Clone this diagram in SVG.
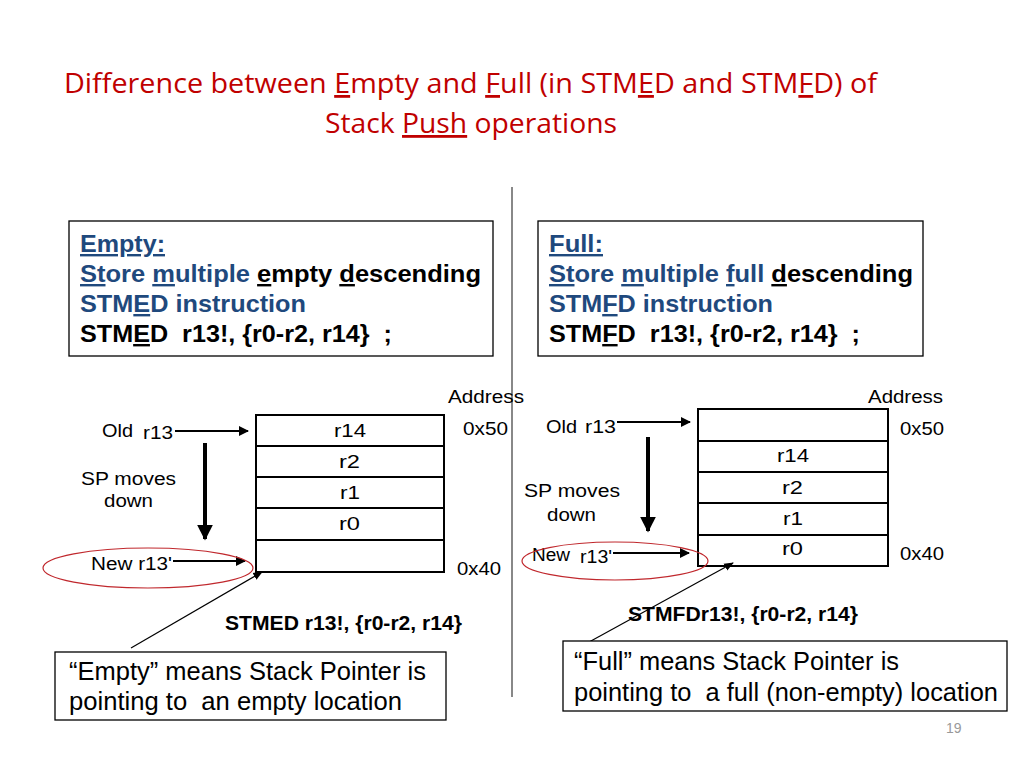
<svg xmlns="http://www.w3.org/2000/svg" width="1024" height="768" viewBox="0 0 1024 768">
<defs>
<style>
.title{font-family:"Open Sans","Liberation Sans",sans-serif;font-size:28px;fill:#C00000}
.hd{font-family:"Liberation Sans",Arial,sans-serif;font-size:24px;font-weight:bold;white-space:pre}
.blue{fill:#1F497D}
.blk{fill:#000}
.lbl{font-family:"Liberation Sans",Arial,sans-serif;font-size:18px;fill:#000}
.cmd{font-family:"Liberation Sans",Arial,sans-serif;font-size:20px;font-weight:bold;fill:#000}
.note{font-family:"Liberation Sans",Arial,sans-serif;font-size:25px;fill:#000;white-space:pre}
.u{text-decoration:underline}
.box{fill:#fff;stroke:#000;stroke-width:1.3}
.cell{fill:#fff;stroke:#000;stroke-width:2}
.arr{stroke:#000;stroke-width:2;fill:none}
.thick{stroke:#000;stroke-width:4;fill:none}
.thin{stroke:#000;stroke-width:1.2;fill:none}
.ell{fill:none;stroke:#C0282D;stroke-width:1.2}
</style>
<marker id="ah" viewBox="0 0 10 10" refX="9" refY="5" markerWidth="5" markerHeight="5" orient="auto" markerUnits="strokeWidth"><path d="M0,0 L10,5 L0,10 z" fill="#000"/></marker>
<marker id="ahb" viewBox="0 0 10 10" refX="9" refY="5" markerWidth="4" markerHeight="4" orient="auto" markerUnits="strokeWidth"><path d="M0,0 L10,5 L0,10 z" fill="#000"/></marker>
<marker id="ahs" viewBox="0 0 10 10" refX="9" refY="5" markerWidth="8" markerHeight="8" orient="auto" markerUnits="strokeWidth"><path d="M0,1 L10,5 L0,9 z" fill="#000"/></marker>
</defs>
<rect width="1024" height="768" fill="#fff"/>

<g id="title">
<text class="title" x="64" y="93" textLength="813" lengthAdjust="spacingAndGlyphs">Difference between <tspan class="u">E</tspan>mpty and <tspan class="u">F</tspan>ull (in STM<tspan class="u">E</tspan>D and STM<tspan class="u">F</tspan>D) of</text>
<text class="title" x="325" y="133" textLength="292" lengthAdjust="spacingAndGlyphs">Stack <tspan class="u">Push</tspan> operations</text>
</g>

<g id="divider"><line x1="512" y1="187" x2="512" y2="697" stroke="#888" stroke-width="2"/></g>

<g id="empty-box">
<rect class="box" x="69" y="221" width="424" height="135"/>
<text class="hd blue" x="80" y="252" textLength="85" lengthAdjust="spacingAndGlyphs"><tspan class="u">Empty:</tspan></text>
<text class="hd" x="80" y="282" textLength="401" lengthAdjust="spacingAndGlyphs"><tspan class="blue u">St</tspan><tspan class="blue">ore </tspan><tspan class="blue u">m</tspan><tspan class="blue">ultiple </tspan><tspan class="blk u">e</tspan><tspan class="blk">mpty </tspan><tspan class="blk u">d</tspan><tspan class="blk">escending</tspan></text>
<text class="hd blue" x="80" y="312" textLength="226" lengthAdjust="spacingAndGlyphs">STM<tspan class="u">E</tspan>D instruction</text>
<text class="hd blk" x="80" y="342" textLength="312" lengthAdjust="spacingAndGlyphs" xml:space="preserve">STM<tspan class="u">E</tspan>D  r13!, {r0-r2, r14}  ;</text>
</g>

<g id="full-box">
<rect class="box" x="538" y="221" width="385" height="135"/>
<text class="hd blue" x="549" y="252" textLength="54" lengthAdjust="spacingAndGlyphs"><tspan class="u">Full:</tspan></text>
<text class="hd" x="549" y="282" textLength="364" lengthAdjust="spacingAndGlyphs"><tspan class="blue u">St</tspan><tspan class="blue">ore </tspan><tspan class="blue u">m</tspan><tspan class="blue">ultiple </tspan><tspan class="blue u">f</tspan><tspan class="blue">ull </tspan><tspan class="blk u">d</tspan><tspan class="blk">escending</tspan></text>
<text class="hd blue" x="549" y="312" textLength="224" lengthAdjust="spacingAndGlyphs">STM<tspan class="u">F</tspan>D instruction</text>
<text class="hd blk" x="549" y="342" textLength="311" lengthAdjust="spacingAndGlyphs" xml:space="preserve">STM<tspan class="u">F</tspan>D  r13!, {r0-r2, r14}  ;</text>
</g>

<g id="stack-left">
<rect class="cell" x="256" y="415" width="188" height="31"/>
<rect class="cell" x="256" y="446" width="188" height="31"/>
<rect class="cell" x="256" y="477" width="188" height="31"/>
<rect class="cell" x="256" y="508" width="188" height="32"/>
<rect class="cell" x="256" y="540" width="188" height="32"/>
<text class="lbl" x="334" y="437" textLength="32" lengthAdjust="spacingAndGlyphs">r14</text>
<text class="lbl" x="339" y="468" textLength="21" lengthAdjust="spacingAndGlyphs">r2</text>
<text class="lbl" x="340" y="499" textLength="20" lengthAdjust="spacingAndGlyphs">r1</text>
<text class="lbl" x="339" y="530" textLength="21" lengthAdjust="spacingAndGlyphs">r0</text>
<text class="lbl" x="448" y="403" textLength="76" lengthAdjust="spacingAndGlyphs">Address</text>
<text class="lbl" x="463" y="435" textLength="45" lengthAdjust="spacingAndGlyphs">0x50</text>
<text class="lbl" x="457" y="575" textLength="44" lengthAdjust="spacingAndGlyphs">0x40</text>
<text class="lbl" x="102" y="437" textLength="31" lengthAdjust="spacingAndGlyphs">Old</text>
<text class="lbl" x="143" y="439" textLength="30" lengthAdjust="spacingAndGlyphs">r13</text>
<text class="lbl" x="81" y="485" textLength="95" lengthAdjust="spacingAndGlyphs">SP moves</text>
<text class="lbl" x="104" y="507" textLength="49" lengthAdjust="spacingAndGlyphs">down</text>
<text class="lbl" x="91" y="570" textLength="81" lengthAdjust="spacingAndGlyphs">New r13'</text>
<text class="cmd" x="225" y="630" textLength="237" lengthAdjust="spacingAndGlyphs">STMED r13!, {r0-r2, r14}</text>
</g>

<g id="stack-right">
<rect class="cell" x="698" y="409" width="190" height="32"/>
<rect class="cell" x="698" y="441" width="190" height="31"/>
<rect class="cell" x="698" y="472" width="190" height="31"/>
<rect class="cell" x="698" y="503" width="190" height="32"/>
<rect class="cell" x="698" y="535" width="190" height="31"/>
<text class="lbl" x="777" y="462" textLength="32" lengthAdjust="spacingAndGlyphs">r14</text>
<text class="lbl" x="782" y="494" textLength="21" lengthAdjust="spacingAndGlyphs">r2</text>
<text class="lbl" x="783" y="525" textLength="20" lengthAdjust="spacingAndGlyphs">r1</text>
<text class="lbl" x="782" y="555" textLength="21" lengthAdjust="spacingAndGlyphs">r0</text>
<text class="lbl" x="868" y="403" textLength="75" lengthAdjust="spacingAndGlyphs">Address</text>
<text class="lbl" x="900" y="435" textLength="44" lengthAdjust="spacingAndGlyphs">0x50</text>
<text class="lbl" x="900" y="560" textLength="44" lengthAdjust="spacingAndGlyphs">0x40</text>
<text class="lbl" x="546" y="433" textLength="31" lengthAdjust="spacingAndGlyphs">Old</text>
<text class="lbl" x="585" y="433" textLength="31" lengthAdjust="spacingAndGlyphs">r13</text>
<text class="lbl" x="524" y="497" textLength="96" lengthAdjust="spacingAndGlyphs">SP moves</text>
<text class="lbl" x="547" y="521" textLength="49" lengthAdjust="spacingAndGlyphs">down</text>
<text class="lbl" x="532" y="561" textLength="38" lengthAdjust="spacingAndGlyphs">New</text>
<text class="lbl" x="580" y="563" textLength="32" lengthAdjust="spacingAndGlyphs">r13'</text>
<text class="cmd" x="628" y="621" textLength="230" lengthAdjust="spacingAndGlyphs">STMFDr13!, {r0-r2, r14}</text>
</g>

<g id="connectors">
<line class="arr" x1="175" y1="431" x2="248" y2="431" marker-end="url(#ah)"/>
<line class="thick" x1="205" y1="443" x2="205" y2="539" marker-end="url(#ahb)"/>
<line class="arr" x1="173" y1="561" x2="245" y2="561" marker-end="url(#ah)"/>
<line class="thin" x1="131" y1="648" x2="262" y2="572" marker-end="url(#ahs)"/>
<line class="arr" x1="617" y1="422" x2="690" y2="422" marker-end="url(#ah)"/>
<line class="thick" x1="648" y1="437" x2="648" y2="531" marker-end="url(#ahb)"/>
<line class="arr" x1="613" y1="553" x2="689" y2="553" marker-end="url(#ah)"/>
<line class="thin" x1="580" y1="647" x2="733" y2="563" marker-end="url(#ahs)"/>
</g>

<g id="highlights">
<ellipse class="ell" cx="148" cy="568" rx="105" ry="20"/>
<ellipse class="ell" cx="615" cy="561" rx="93" ry="19"/>
</g>

<g id="note-empty">
<rect class="box" x="55" y="652" width="391" height="68"/>
<text class="note" x="69" y="680" textLength="357" lengthAdjust="spacingAndGlyphs">“Empty” means Stack Pointer is</text>
<text class="note" x="69" y="710" textLength="333" lengthAdjust="spacingAndGlyphs" xml:space="preserve">pointing to  an empty location</text>
</g>

<g id="note-full">
<rect class="box" x="563" y="641" width="444" height="70"/>
<text class="note" x="574" y="670" textLength="325" lengthAdjust="spacingAndGlyphs">“Full” means Stack Pointer is</text>
<text class="note" x="574" y="701" textLength="424" lengthAdjust="spacingAndGlyphs" xml:space="preserve">pointing to  a full (non-empty) location</text>
</g>

<text x="946" y="733" font-family="Liberation Sans, Arial, sans-serif" font-size="14" fill="#999">19</text>
</svg>
